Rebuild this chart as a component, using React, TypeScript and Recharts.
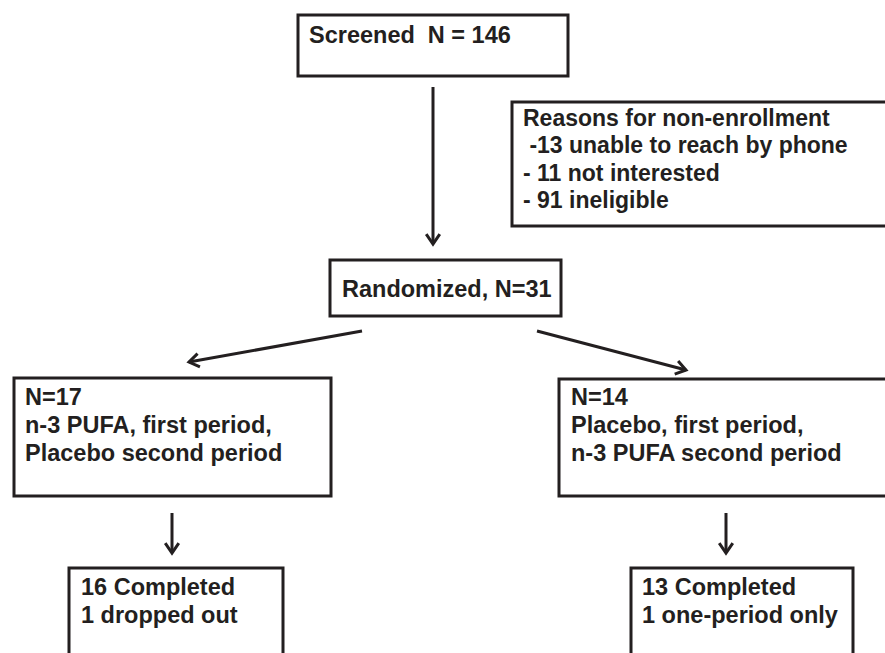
import React from "react";
import {
  ScatterChart,
  Scatter,
  XAxis,
  YAxis,
  ReferenceArea,
  ReferenceLine,
} from "recharts";

const W = 885;
const H = 653;
const INK = "#231f20";

// box outlines, in page units (boxes running off the page are clipped)
const boxes = [
  { id: "screened", x1: 298, x2: 568, y1: 15, y2: 76 },
  { id: "reasons", x1: 512, x2: 905, y1: 102, y2: 226 },
  { id: "randomized", x1: 330, x2: 561, y1: 260, y2: 316 },
  { id: "groupA", x1: 14, x2: 331, y1: 378, y2: 496 },
  { id: "groupB", x1: 559, x2: 905, y1: 379, y2: 496 },
  { id: "doneA", x1: 69, x2: 283, y1: 568, y2: 680 },
  { id: "doneB", x1: 631, x2: 853, y1: 568, y2: 680 },
];

// arrows: from -> tip
const arrows = [
  { x1: 433, y1: 87, x2: 433, y2: 244 },
  { x1: 362, y1: 331, x2: 189, y2: 362 },
  { x1: 537, y1: 331, x2: 686, y2: 370 },
  { x1: 172, y1: 513, x2: 172, y2: 553 },
  { x1: 726, y1: 513, x2: 726, y2: 553 },
];

// text lines (x = left, y = baseline)
const lines = [
  { x: 309, y: 43, size: 23.5, text: "Screened  N = 146" },
  { x: 523, y: 126, size: 23, text: "Reasons for non-enrollment" },
  { x: 523, y: 153, size: 23, text: " -13 unable to reach by phone" },
  { x: 523, y: 181, size: 23, text: "- 11 not interested" },
  { x: 523, y: 208, size: 23, text: "- 91 ineligible" },
  { x: 342, y: 297, size: 23.5, text: "Randomized, N=31" },
  { x: 25, y: 405, size: 23.5, text: "N=17" },
  { x: 25, y: 433, size: 23.5, text: "n-3 PUFA, first period," },
  { x: 25, y: 461, size: 23.5, text: "Placebo second period" },
  { x: 571, y: 405, size: 23.5, text: "N=14" },
  { x: 571, y: 433, size: 23.5, text: "Placebo, first period," },
  { x: 571, y: 461, size: 23.5, text: "n-3 PUFA second period" },
  { x: 81, y: 595, size: 23.5, text: "16 Completed" },
  { x: 81, y: 623, size: 23.5, text: "1 dropped out" },
  { x: 642, y: 595, size: 23.5, text: "13 Completed" },
  { x: 642, y: 623, size: 23.5, text: "1 one-period only" },
];

const Arrow = (props: any) => {
  const { x1, y1, x2, y2 } = props;
  const a = Math.atan2(y2 - y1, x2 - x1);
  const len = 12;
  const spread = 0.6;
  const p1 = [x2 - len * Math.cos(a - spread), y2 - len * Math.sin(a - spread)];
  const p2 = [x2 - len * Math.cos(a + spread), y2 - len * Math.sin(a + spread)];
  return (
    <g>
      <line x1={x1} y1={y1} x2={x2} y2={y2} stroke={INK} strokeWidth={3} />
      <path
        d={`M${p1[0]},${p1[1]} L${x2},${y2} L${p2[0]},${p2[1]}`}
        fill="none"
        stroke={INK}
        strokeWidth={3}
        strokeLinejoin="miter"
      />
    </g>
  );
};

const TextLine = (props: any) => {
  const { cx, cy, payload } = props;
  return (
    <text
      x={cx}
      y={cy}
      fill={INK}
      fontSize={payload.size}
      fontWeight="bold"
      fontFamily="'Liberation Sans', Arial, sans-serif"
      style={{ whiteSpace: "pre" }}
    >
      {payload.text}
    </text>
  );
};

export default function App() {
  return (
    <div
      style={{
        position: "fixed",
        left: 0,
        top: 0,
        width: W,
        height: H,
        overflow: "hidden",
        background: "#fff",
      }}
    >
      <ScatterChart width={W} height={H} margin={{ top: 0, right: 0, bottom: 0, left: 0 }}>
        <XAxis type="number" dataKey="x" domain={[0, W]} hide allowDataOverflow />
        <YAxis type="number" dataKey="y" domain={[0, H]} reversed hide allowDataOverflow />
        {boxes.map((b) => (
          <ReferenceArea
            key={b.id}
            x1={b.x1}
            x2={b.x2}
            y1={b.y1}
            y2={b.y2}
            fill="none"
            fillOpacity={0}
            stroke={INK}
            strokeWidth={3}
            ifOverflow="hidden"
          />
        ))}
        {arrows.map((a, i) => (
          <ReferenceLine
            key={i}
            segment={[
              { x: a.x1, y: a.y1 },
              { x: a.x2, y: a.y2 },
            ]}
            ifOverflow="visible"
            shape={Arrow}
          />
        ))}
        <Scatter data={lines} shape={TextLine} isAnimationActive={false} />
      </ScatterChart>
    </div>
  );
}
